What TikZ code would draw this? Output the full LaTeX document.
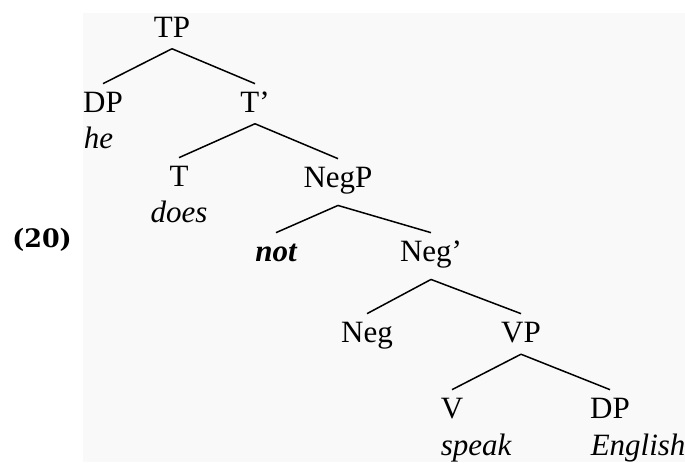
\documentclass[tikz,border=0pt]{standalone}
\usepackage{fontspec}
\setmainfont{Liberation Serif}
\newfontfamily\numfont{DejaVu Serif}
\definecolor{panel}{RGB}{249,249,249}

\begin{document}
\begin{tikzpicture}[x=0.5pt, y=-0.5pt, line width=0.75pt,
   cat/.style={inner sep=0pt, text height=0.68em, font=\fontsize{15.5}{18}\selectfont},
   leaf/.style={inner sep=0pt, font=\fontsize{15.5}{18}\selectfont\itshape}]

   \useasboundingbox (0,0) rectangle (685,462);
   \fill[panel] (83,13) rectangle (685,462);

   \node [anchor=base, inner sep=0pt, font=\numfont\bfseries\fontsize{12.7}{15}\selectfont]
      (ex) at (42,247) {(20)};

   \foreach \n/\x/\y/\t in {TP/172/37/TP, DPa/103/112/DP, Tbar/255/112/T’, T/179/186/T,
       NegP/338/187/NegP, not/276/261/{\bfseries\itshape not}, Negbar/431/261/Neg’,
       Neg/367/342/Neg, VP/521/342/VP, V/452/418/V, DPb/610/418/DP}
     \node [cat, anchor=base]
        (\n) at (\x,\y) {\t};

   \foreach \n/\x/\y/\t/\a in {he/83/148/he/base west, does/179/222/does/base,
       speak/440/455/speak/base west, English/590/455/English/base west}
     \node [leaf, anchor=\a]
        (\n) at (\x,\y) {\t};

   \foreach \p/\c in {TP/DPa, TP/Tbar, Tbar/T, Tbar/NegP, NegP/not, NegP/Negbar,
       Negbar/Neg, Negbar/VP, VP/V, VP/DPb}
     \draw ([yshift=-5.5pt]\p.south) -- ([yshift=7pt]\c.north);

\end{tikzpicture}
\end{document}
